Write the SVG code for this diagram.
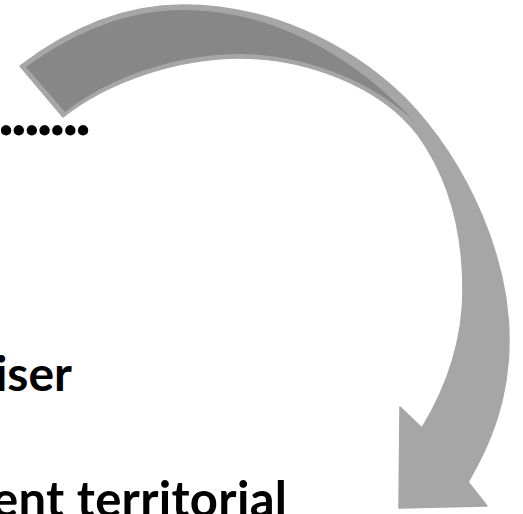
<svg xmlns="http://www.w3.org/2000/svg" width="523" height="514" viewBox="0 0 523 514">
<style>
.t{font-family:Lato,"Open Sans","Liberation Sans",sans-serif;font-weight:bold;fill:#000}
.light{fill:#a6a6a6;stroke:#a6a6a6;stroke-width:1.5;stroke-linejoin:round}
.dark{fill:#878787}
</style>
<rect width="523" height="514" fill="#fff"/>
<g id="connectors">
<g id="arrow">
<path class="light" d="M20,66 C70,28 125,5 183,5 C265,5 345,40 405,98 C470,165 509,260 509,340 C509,400 490,445 468,482 L487,506 L399,508 L400,407 L422,428 C448,385 463,340 463,290 C463,225 447,175 418,135 C380,85 305,58 240,58 C180,58 110,80 63,117 Z"/>
<path class="dark" d="M26,67 C76,31 128,10 183,10 C262,10 345,46 415,122 C372,80 302,54 240,54 C180,54 112,75 65,112 Z"/>
</g>
</g>
<g id="text1"><text class="t" x="-2 10.8 23.7 36.5 49.3 62.2 75" y="134.5" font-size="68">.......</text></g>
<g id="text2"><text class="t" x="72" y="391" font-size="48" text-anchor="end">iser</text></g>
<g id="text3"><text class="t" x="-8" y="517" font-size="49" textLength="295" lengthAdjust="spacing">ent territorial</text></g>
</svg>
